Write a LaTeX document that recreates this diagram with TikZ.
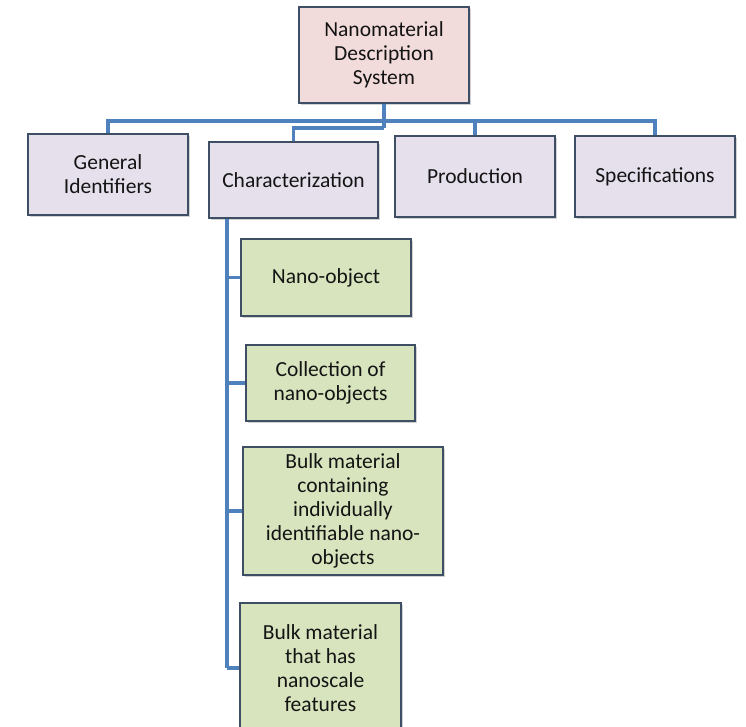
\documentclass[tikz,border=0pt]{standalone}
\usepackage{fontspec}
\setmainfont{Carlito}
\usetikzlibrary{shadows}
\definecolor{linkblue}{RGB}{79,129,189}
\definecolor{edgecol}{RGB}{62,78,100}
\definecolor{pinkfill}{RGB}{242,220,219}
\definecolor{lavfill}{RGB}{229,224,236}
\definecolor{greenfill}{RGB}{215,228,189}
\definecolor{txt}{RGB}{20,20,20}
\tikzset{
  box/.style={draw=edgecol, line width=1.4pt, rectangle, align=center, text=txt,
    font=\fontsize{21.5}{24}\selectfont, inner sep=2pt,
    drop shadow={shadow xshift=1.5pt, shadow yshift=-1.5pt, fill=black!35}},
  topbox/.style={box, fill=pinkfill},
  midbox/.style={box, fill=lavfill},
  leafbox/.style={box, fill=greenfill},
  link/.style={draw=linkblue, line width=3.5pt}
}
\begin{document}
\begin{tikzpicture}[x=1pt,y=-1pt]
\clip (0,0) rectangle (746,726);
\fill[white] (0,0) rectangle (746,726);
\coordinate (bus) at (384,121);
\coordinate (cbus) at (384,128);
\coordinate (spine) at (227,218);
\node[topbox, minimum width=170pt, minimum height=96pt] (top) at (384,55) {Nanomaterial\\Description\\System};
\node[midbox, minimum width=160pt, minimum height=81pt] (gi) at (108,174.5) {General\\Identifiers};
\node[midbox, minimum width=169pt, minimum height=76pt] (char) at (293.5,180) {Characterization};
\node[midbox, minimum width=160pt, minimum height=81pt] (prod) at (475,176.5) {Production};
\node[midbox, minimum width=160pt, minimum height=81pt] (spec) at (655,176.5) {Specifications};
\node[leafbox, minimum width=170pt, minimum height=77pt] (nano) at (326,277.5) {Nano-object};
\node[leafbox, minimum width=169pt, minimum height=76pt] (coll) at (330.5,383) {Collection of\\nano-objects};
\node[leafbox, minimum width=200pt, minimum height=128pt] (bulka) at (343,511) {Bulk material\\containing\\individually\\identifiable nano-\\objects};
\node[leafbox, minimum width=161pt, minimum height=130pt] (bulkb) at (320.5,668) {Bulk material\\that has\\nanoscale\\features};
\draw[link] (top.south) -- (cbus);
\draw[link] (bus) -| (gi.north);
\draw[link] (bus) -| (prod.north);
\draw[link] (bus) -| (spec.north);
\draw[link] (cbus) -| (char.north);
\draw[link] (char.south -| spine) -- (bulkb.west -| spine);
\draw[link] (nano.west -| spine) -- (nano.west);
\draw[link] (coll.west -| spine) -- (coll.west);
\draw[link] (bulka.west -| spine) -- (bulka.west);
\draw[link] (bulkb.west -| spine) -- (bulkb.west);
\end{tikzpicture}
\end{document}
